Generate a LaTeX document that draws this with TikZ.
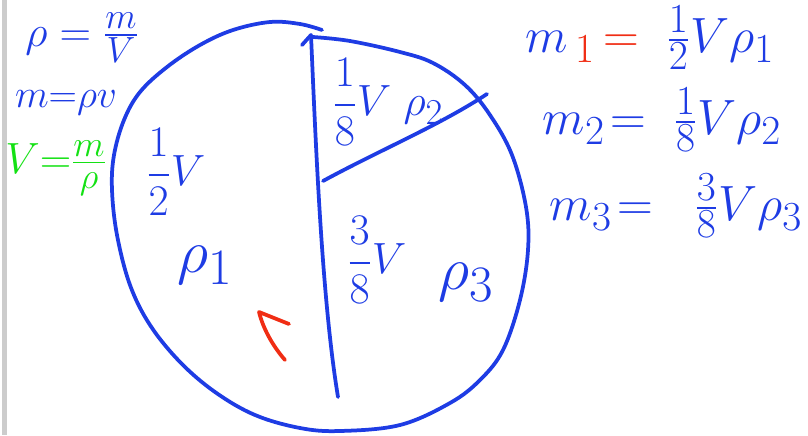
\documentclass[tikz,border=0pt]{standalone}
\usepackage{amsmath}

\definecolor{penblue}{RGB}{30,60,228}
\definecolor{pengreen}{RGB}{20,225,20}
\definecolor{penred}{RGB}{240,45,20}

\tikzset{
  pen/.style={line width=3.2pt, line cap=round, line join=round},
  big/.style={inner sep=0pt, font=\Huge, scale=1.5},
  rhs/.style={inner sep=0pt, font=\Huge, scale=1.7},
  dens/.style={inner sep=0pt, font=\Huge, scale=2.1},
  mid/.style={inner sep=0pt, font=\Huge, scale=1.35}
}

\begin{document}
\begin{tikzpicture}[x=0.03cm, y=-0.03cm]
  \useasboundingbox (0,0) rectangle (808,435);

  % Page edge
  \fill[gray!40] (2,0) rectangle (7,435);

  % Formulas on the left
  \node[big, penblue] (rho) at (82,38) {$\rho=\frac{m}{V}$};
  \node[mid, penblue] (mass) at (66,103) {$m{=}\rho v$};
  \node[big, pengreen] (vol) at (56,168) {$V{=}\frac{m}{\rho}$};

  % The body (freehand circle)
  \draw[pen, penblue] plot[smooth, tension=0.6] coordinates {
    (322,30) (300,24) (270,22) (233,30) (200,45) (167,67) (140,92)
    (124,120) (114,155) (112,190) (117,235) (130,285) (150,325)
    (180,362) (215,392) (255,415) (300,428) (340,431) (400,425)
    (450,403) (480,380) (503,350) (520,300) (528,250) (526,207)
    (512,155) (490,115) (465,85) (433,63) (400,52) (350,41) (313,37)};

  % Dividing lines
  \coordinate (top) at (311,35);
  \coordinate (bottom) at (338,397);
  \coordinate (split) at (323,181);
  \coordinate (rim) at (487,94);
  \draw[pen, penblue] (302,45) -- (top);
  \draw[pen, penblue] (top) .. controls (316,150) and (322,300) .. (bottom);
  \draw[pen, penblue] (split) .. controls (380,150) and (440,125) .. (rim);

  % Parts
  \node[big, penblue] (half) at (176,172) {$\dfrac{1}{2}V$};
  \node[dens, penblue] (rho1) at (205,265) {$\rho_1$};
  \node[big, penblue] (eighth) at (388,102) {$\dfrac{1}{8}V\;\rho_2$};
  \node[big, penblue] (three) at (377,260) {$\dfrac{3}{8}V$};
  \node[dens, penblue] (rho3) at (466,282) {$\rho_3$};

  % Red mark
  \draw[pen, penred] (285,360) .. controls (272,345) and (263,328) .. (259,312) -- (289,324);

  % Masses on the right
  \node[rhs, penblue] (m1) at (650,38)
    {$m_{\,\color{penred}1}\,{\color{penred}=}\;\;\frac{1}{2}V\rho_1$};
  \node[rhs, penblue] (m2) at (662,120) {$m_2\!=\;\frac{1}{8}V\rho_2$};
  \node[rhs, penblue] (m3) at (676,206) {$m_3\!=\;\;\frac{3}{8}V\rho_3$};
\end{tikzpicture}
\end{document}
